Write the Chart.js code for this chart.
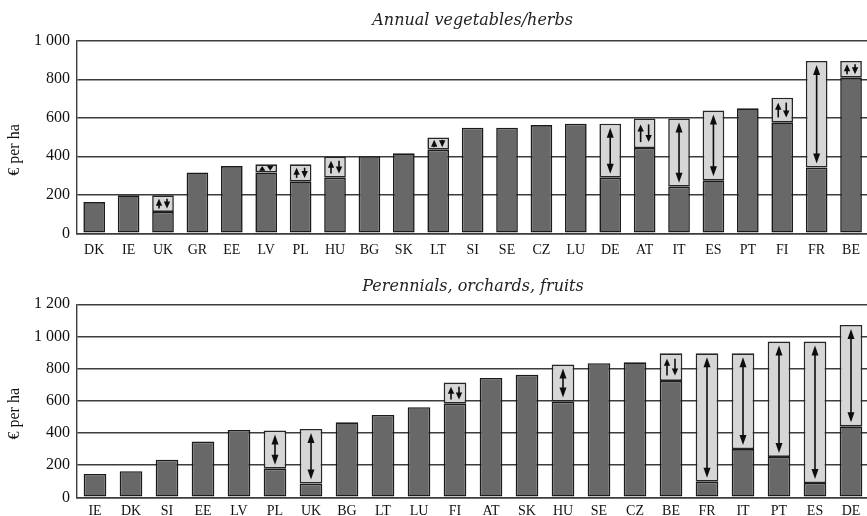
<!DOCTYPE html>
<html>
<head>
<meta charset="utf-8">
<title>Payments per hectare</title>
<script src="https://cdn.jsdelivr.net/npm/chart.js@4/dist/chart.umd.min.js"></script>
<style>
  body { margin: 0; overflow: hidden; background: #fff; }
  .panel { position: absolute; left: 0; width: 869px; }
</style>
</head>
<body>
<div class="panel" style="top:0"><canvas id="chart-annual" width="869" height="258"></canvas></div>
<div class="panel" style="top:258px"><canvas id="chart-perennial" width="869" height="270"></canvas></div>
<script>
// Annual vegetables/herbs: lowest payment per country, and the top of the range where one exists.
const annualCountries = ['DK', 'IE', 'UK', 'GR', 'EE', 'LV', 'PL', 'HU', 'BG', 'SK', 'LT', 'SI',
  'SE', 'CZ', 'LU', 'DE', 'AT', 'IT', 'ES', 'PT', 'FI', 'FR', 'BE'];
const annualMin = [162, 197, 111, 316, 349, 316, 270, 289, 400, 415, 434, 548,
  548, 562, 569, 289, 443, 242, 275, 649, 576, 341, 808];
const annualMax = [null, null, 197, null, null, 358, 358, 398, null, null, 498, null,
  null, null, null, 569, 596, 596, 637, null, 704, 895, 895];

// Perennials, orchards, fruits
const perennialCountries = ['IE', 'DK', 'SI', 'EE', 'LV', 'PL', 'UK', 'BG', 'LT', 'LU', 'FI',
  'AT', 'SK', 'HU', 'SE', 'CZ', 'BE', 'FR', 'IT', 'PT', 'ES', 'DE'];
const perennialMin = [145, 162, 234, 346, 419, 178, 85, 466, 512, 560, 582,
  742, 761, 595, 833, 839, 723, 97, 300, 251, 89, 441];
const perennialMax = [null, null, null, null, null, 415, 425, null, null, null, 713,
  null, null, 825, null, null, 895, 895, 895, 968, 968, 1071];

const SERIF = '"Liberation Serif", "Times New Roman", serif';
const TITLE_SERIF = '"DejaVu Serif", serif';
const DARK = '#686868';
const LIGHT = '#d6d6d6';
const EDGE = '#1a1a1a';
const GRID = '#3c3c3c';
const TEXT = '#111';

Chart.defaults.font.family = SERIF;
Chart.defaults.color = TEXT;

function arrowHead(ctx, x, tipY, dir, len, hw) {
  // dir = 1 for an upward head (base below the tip), -1 for downward
  ctx.beginPath();
  ctx.moveTo(x, tipY);
  ctx.lineTo(x - hw, tipY + dir * len);
  ctx.lineTo(x + hw, tipY + dir * len);
  ctx.closePath();
  ctx.fill();
}

function stem(ctx, x, y1, y2) {
  if (y2 <= y1) return;
  ctx.beginPath();
  ctx.moveTo(x, y1);
  ctx.lineTo(x, y2);
  ctx.stroke();
}

// Arrows inside the light range boxes
const rangeArrows = {
  id: 'rangeArrows',
  afterDatasetsDraw(chart) {
    const ctx = chart.ctx;
    const values = chart.data.datasets[1].data;
    ctx.save();
    ctx.fillStyle = '#0d0d0d';
    ctx.strokeStyle = '#0d0d0d';
    ctx.lineWidth = 1.6;
    chart.getDatasetMeta(1).data.forEach((bar, i) => {
      if (values[i] == null) return;
      const top = bar.y, bottom = bar.base, cx = bar.x;
      const h = bottom - top;
      if (h >= 32) {
        const y1 = top + 4, y2 = bottom - 4;
        arrowHead(ctx, cx, y1, 1, 10, 3.5);
        arrowHead(ctx, cx, y2, -1, 10, 3.5);
        stem(ctx, cx, y1 + 9, y2 - 9);
      } else {
        const pad = Math.max(1.5, h * 0.2);
        const y1 = top + pad, y2 = bottom - pad;
        const len = Math.min(7, y2 - y1);
        arrowHead(ctx, cx - 4, y1, 1, len, 3.2);
        stem(ctx, cx - 4, y1 + len - 1, y2);
        arrowHead(ctx, cx + 4, y2, -1, len, 3.2);
        stem(ctx, cx + 4, y1, y2 - len + 1);
      }
    });
    ctx.restore();
  }
};

// Rotated unit caption beside the value axis
const unitCaption = {
  id: 'unitCaption',
  afterDraw(chart) {
    const { ctx, chartArea } = chart;
    ctx.save();
    ctx.translate(15, (chartArea.top + chartArea.bottom) / 2 + 13);
    ctx.rotate(-Math.PI / 2);
    ctx.font = '16px ' + SERIF;
    ctx.fillStyle = TEXT;
    ctx.textAlign = 'center';
    ctx.textBaseline = 'middle';
    ctx.fillText('€ per ha', 0, 0);
    ctx.restore();
  }
};

function spaced(v) {
  return String(v).replace(/\B(?=(\d{3})+$)/g, ' ');
}

function drawPanel(id, title, countries, minVals, maxVals, yMax, layout) {
  const rangeVals = maxVals.map((v, i) => (v == null ? null : v - minVals[i]));
  return new Chart(document.getElementById(id), {
    type: 'bar',
    data: {
      labels: countries,
      datasets: [
        { label: 'lowest', data: minVals, backgroundColor: DARK, borderColor: EDGE,
          borderWidth: 1.6, borderSkipped: false },
        { label: 'range', data: rangeVals, backgroundColor: LIGHT, borderColor: '#262626',
          borderWidth: 1.6, borderSkipped: false }
      ]
    },
    options: {
      responsive: false,
      animation: false,
      layout: { padding: 0 },
      datasets: { bar: { categoryPercentage: 1, barPercentage: 0.63 } },
      plugins: {
        legend: { display: false },
        tooltip: { enabled: false },
        title: {
          display: true,
          fullSize: false,
          text: title,
          color: '#222',
          font: { family: TITLE_SERIF, size: 16, style: 'italic', weight: 'normal', lineHeight: 1.2 },
          padding: layout.titlePad
        }
      },
      scales: {
        x: {
          stacked: true,
          grid: { display: false, drawTicks: false },
          border: { display: true, color: GRID, width: 1.4 },
          ticks: { color: TEXT, font: { size: 14 }, padding: layout.xPad, maxRotation: 0, autoSkip: false },
          afterFit: (s) => { s.height = layout.xHeight; }
        },
        y: {
          stacked: true,
          min: 0,
          max: yMax,
          border: { display: true, color: GRID, width: 1.4 },
          grid: { color: GRID, lineWidth: 1.4, drawTicks: false },
          ticks: { stepSize: 200, padding: 7, color: TEXT, font: { size: 16 }, callback: spaced },
          afterFit: (s) => { s.width = 77; }
        }
      }
    },
    plugins: [rangeArrows, unitCaption]
  });
}

drawPanel('chart-annual', 'Annual vegetables/herbs', annualCountries, annualMin, annualMax, 1000,
  { titlePad: { top: 11, bottom: 10.5 }, xPad: 9, xHeight: 24.7 });
drawPanel('chart-perennial', 'Perennials, orchards, fruits', perennialCountries, perennialMin, perennialMax, 1200,
  { titlePad: { top: 19, bottom: 8 }, xPad: 6, xHeight: 30.7 });
</script>
</body>
</html>
